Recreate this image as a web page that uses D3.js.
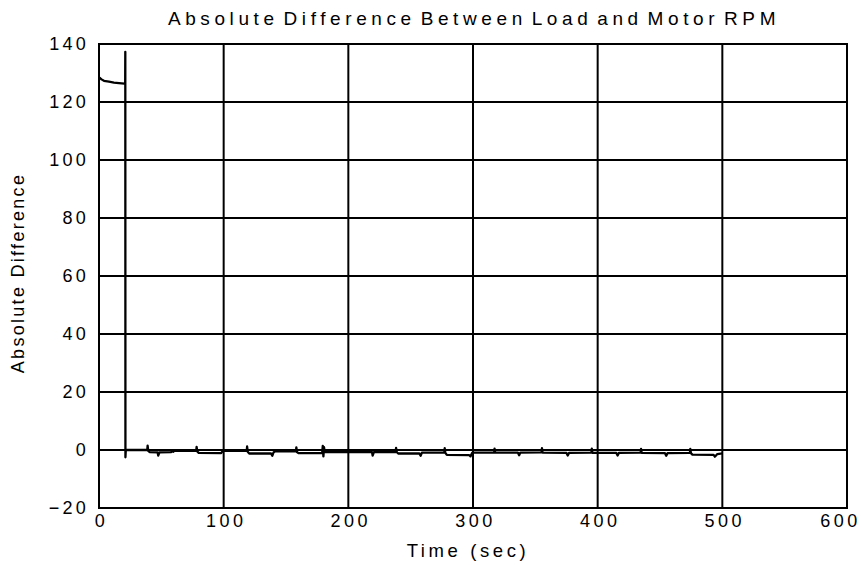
<!DOCTYPE html>
<html><head><meta charset="utf-8">
<script src="https://cdn.jsdelivr.net/npm/d3@7/dist/d3.min.js"></script>
<style>
html,body{margin:0;padding:0;background:#fff;}
text{font-family:"Liberation Sans",Arial,sans-serif;fill:#000;}
</style></head>
<body>
<svg id="chart" width="862" height="565"></svg>
<script>
const titleText = "Absolute Difference Between Load and Motor RPM";
const xLabel = "Time (sec)";
const yLabel = "Absolute Difference";
const xTicks = [0, 100, 200, 300, 400, 500, 600];
const yTicks = [-20, 0, 20, 40, 60, 80, 100, 120, 140];

const timeSec = [0,1,2,4,8,12,16,20.5,21,21.1,21.2,21.5,
  38.7,39,39.5,40.5,47,47.5,48.5,58,58.8,59.5,60.5,
  78,78.3,78.8,80,98,99,100,
  118.5,118.8,119.3,120.5,138,139,140,141,
  158,158.3,158.8,160,179,179.5,180,180.5,181,
  199,219,219.5,220.5,
  238,238.3,238.8,240,257,258,259,
  277,277.3,277.8,279,297,298,299.5,
  317,317.3,317.8,336,337,338,
  355,355.3,355.8,375,376,377,
  395,395.3,395.8,415,416,417,
  434.5,434.8,435.3,454,455,456,
  474,474.3,474.8,476,493,494,496,500];
const absDiff = [128.5,128.2,127.8,127.3,127.0,126.7,126.5,126.3,126.3,137.3,-2.5,0,
  0,1.5,-0.3,-0.7,-0.8,-1.9,-0.8,-0.7,-0.1,-0.6,-0.3,
  -0.2,1.1,-0.5,-1.0,-1.1,-0.5,-0.3,
  -0.3,1.2,-0.6,-1.2,-1.2,-2.0,-0.8,-0.5,
  -0.5,0.9,-0.7,-1.1,-1.1,1.4,-2.2,1.0,-0.7,
  -0.6,-0.7,-1.9,-0.7,
  -0.7,0.7,-0.7,-1.2,-1.2,-2.0,-0.9,
  -0.9,0.6,-1.0,-1.7,-1.8,-2.2,-0.9,
  -0.9,0.5,-0.9,-0.9,-1.8,-0.9,
  -0.8,0.6,-0.9,-1.0,-1.9,-1.0,
  -0.9,0.5,-1.0,-1.0,-1.9,-1.0,
  -0.9,0.4,-1.0,-1.1,-2.0,-1.1,
  -1.0,0.4,-1.1,-1.6,-1.7,-2.3,-1.4,-1.2];

const svg = d3.select("#chart");
const mLeft = 99, mRight = 847, mTop = 44, mBottom = 508;

const x = d3.scaleLinear().domain([0, 600]).range([mLeft, mRight]);
const y = d3.scaleLinear().domain([-20, 140]).range([mBottom, mTop]);

// grid
const g = svg.append("g");
g.selectAll("line.h").data(yTicks).enter().append("line")
  .attr("x1", mLeft).attr("x2", mRight)
  .attr("y1", d => y(d)).attr("y2", d => y(d))
  .attr("stroke", "#000").attr("stroke-width", 2);
g.selectAll("line.v").data(xTicks).enter().append("line")
  .attr("y1", mTop).attr("y2", mBottom)
  .attr("x1", d => x(d)).attr("x2", d => x(d))
  .attr("stroke", "#000").attr("stroke-width", 2);
g.append("rect").attr("x", mLeft).attr("y", mTop)
  .attr("width", mRight - mLeft).attr("height", mBottom - mTop)
  .attr("fill", "none").attr("stroke", "#000").attr("stroke-width", 2);

// axes (labels only)
const yAxis = d3.axisLeft(y).tickValues(yTicks).tickSize(0).tickPadding(10);
const ya = svg.append("g").attr("transform", `translate(${mLeft},0)`).call(yAxis);
ya.select(".domain").remove();
ya.selectAll("text").attr("font-size", 18).attr("letter-spacing", 3.2)
  .style("font-family", "'Liberation Sans', Arial, sans-serif").attr("fill", "#000");

const xAxis = d3.axisBottom(x).tickValues(xTicks).tickSize(0).tickPadding(6);
const xa = svg.append("g").attr("transform", `translate(0,${mBottom})`).call(xAxis);
xa.select(".domain").remove();
xa.selectAll("text").attr("font-size", 18).attr("letter-spacing", 3.5)
  .style("font-family", "'Liberation Sans', Arial, sans-serif").attr("fill", "#000")
  .attr("dx", d => d === 600 ? -7 : 2);

// data line
const pts = timeSec.map((t, i) => [t, absDiff[i]]);
svg.append("path").datum(pts)
  .attr("fill", "none").attr("stroke", "#000").attr("stroke-width", 2.3)
  .attr("stroke-linejoin", "round")
  .attr("d", d3.line().x(d => x(d[0])).y(d => y(d[1])));

// title and labels
svg.append("text").attr("x", 474).attr("y", 25).attr("text-anchor", "middle")
  .attr("font-size", 19).attr("letter-spacing", 4.6).attr("word-spacing", -5)
  .text(titleText);
svg.append("text").attr("x", 468).attr("y", 557).attr("text-anchor", "middle")
  .attr("font-size", 18.5).attr("letter-spacing", 3.6).text(xLabel);
svg.append("text").attr("transform", "translate(24,273) rotate(-90)")
  .attr("text-anchor", "middle").attr("font-size", 18).attr("letter-spacing", 2.3)
  .text(yLabel);
</script>
</body></html>
